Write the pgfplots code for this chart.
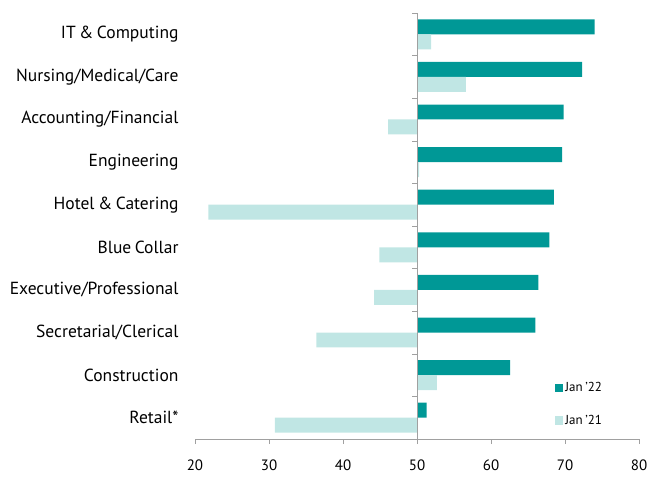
\documentclass[border=0pt]{standalone}
\usepackage{pgfplots}
\pgfplotsset{compat=1.18}
\usepackage{pgfplotstable}
\usepackage{fontspec}
\setmainfont{PT Sans}[WordSpace=0.75]
\definecolor{dark}{HTML}{009896}
\definecolor{light}{HTML}{C0E6E4}
\definecolor{axgray}{HTML}{A0A0A0}

\pgfplotstableread{
pos j22 j21
9 74.0 51.9
8 72.3 56.6
7 69.8 46.1
6 69.6 50.3
5 68.5 21.8
4 67.9 44.9
3 66.4 44.2
2 66.0 36.4
1 62.6 52.7
0 51.3 30.8
}\data

\begin{document}
\begin{tikzpicture}
\begin{axis}[
 name=ax,
 scale only axis, width=444pt, height=426pt,
 xmin=-30, xmax=30, ymin=-0.5, ymax=9.5,
 axis x line=bottom, axis y line=left,
 y axis line style={draw=none},
 x axis line style={axgray, -},
 xtick={-30,-20,...,30}, xticklabels={20,30,40,50,60,70,80},
 /pgf/number format/assume math mode=true,
 tick align=outside, major tick length=5pt,
 x tick style={axgray, line width=0.6pt},
 ytick={0,...,9},
 yticklabels={Retail*, Construction, Secretarial/Clerical, Executive/Professional, Blue Collar, Hotel \& Catering, Engineering, Accounting/Financial, Nursing/Medical/Care, IT \& Computing},
 y tick style={draw=none},
 yticklabel style={font=\fontsize{17.5}{19}\selectfont, xshift=-8pt},
 xticklabel style={font=\fontsize{15}{17}\selectfont, yshift=-12pt},
 legend style={draw=none, fill=none, at={(rel axis cs:0.81,0.138)}, anchor=north west,
   row sep=18pt, font=\fontsize{13}{15}\selectfont, inner sep=0pt},
 legend cell align=left,
 legend image code/.code={\path[#1, draw=none] (0pt,-4.25pt) rectangle (8.5pt,4.25pt);},
 clip=false,
]
\addplot[xbar, fill=dark, draw=none, bar width=0.352, bar shift=0.176]
  table[x expr=\thisrow{j22}-50, y=pos]{\data};
\addplot[xbar, fill=light, draw=none, bar width=0.352, bar shift=-0.176]
  table[x expr=\thisrow{j21}-50, y=pos]{\data};
\legend{Jan '22, Jan '21}
\draw[axgray, line width=0.6pt] (axis cs:0,-0.5) -- (axis cs:0,9.5);
\pgfplotsinvokeforeach{-0.5,0.5,...,9.5}{
  \draw[axgray, line width=0.6pt] (axis cs:0,#1) -- ++(-5pt,0pt);
}
\end{axis}
\pgfresetboundingbox
\path (ax.south west) ++(-195pt,-37pt) coordinate (bl);
\path (ax.north east) ++(10pt,13pt) coordinate (tr);
\path[use as bounding box] (bl) rectangle (tr);
\end{tikzpicture}
\end{document}
